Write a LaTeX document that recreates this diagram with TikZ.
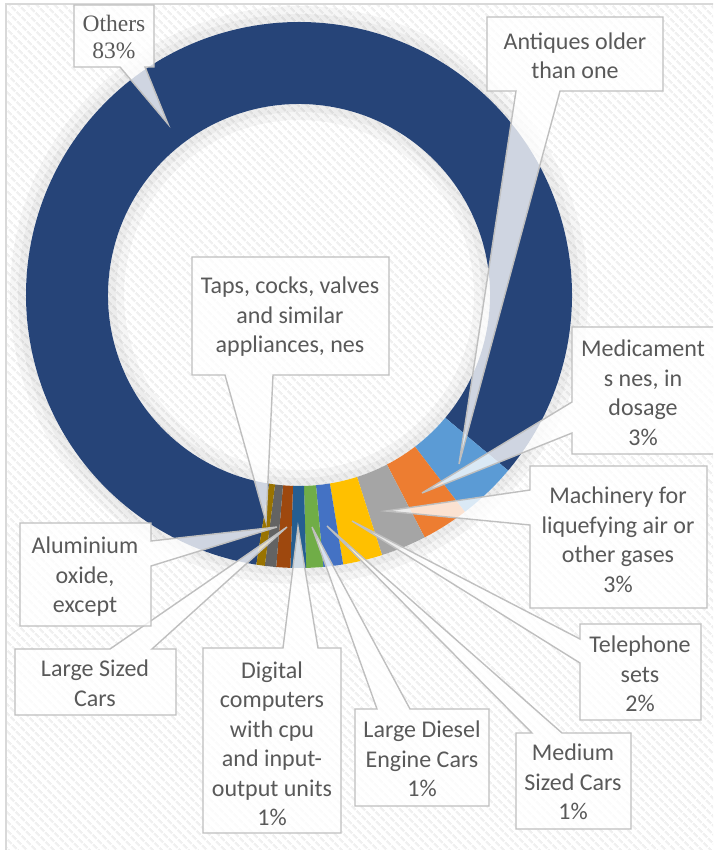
\documentclass[tikz,border=0pt]{standalone}
\usepackage{fontspec}
\setmainfont{Carlito}
\newfontfamily\othersfont{Liberation Serif}
\usetikzlibrary{calc,patterns.meta}
\definecolor{cOthers}{HTML}{264478}
\definecolor{cAnt}{HTML}{5B9BD5}
\definecolor{cMed}{HTML}{ED7D31}
\definecolor{cMach}{HTML}{A5A5A5}
\definecolor{cTel}{HTML}{FFC000}
\definecolor{cMedCar}{HTML}{4472C4}
\definecolor{cDiesel}{HTML}{70AD47}
\definecolor{cDig}{HTML}{255E91}
\definecolor{cLarge}{HTML}{9E480E}
\definecolor{cAlu}{HTML}{636363}
\definecolor{cTaps}{HTML}{997300}
\definecolor{txtgray}{HTML}{595959}
\definecolor{boxgray}{HTML}{BFBFBF}
\definecolor{framegray}{HTML}{D9D9D9}
\newcommand\ringseg[3]{\fill[#1] ($(C)+({-(#2)}:273)$) arc[start angle={-(#2)}, end angle={-(#3)}, radius=273] -- ($(C)+({-(#3)}:191)$) arc[start angle={-(#3)}, end angle={-(#2)}, radius=191] -- cycle;}
\begin{document}
\begin{tikzpicture}[x=1pt,y=-1pt,
  callout/.style={fill=white, fill opacity=0.78, draw=boxgray, line width=1.4pt, line join=miter},
  lbl/.style={text=txtgray, align=center, font=\fontsize{24}{29.5}\selectfont, inner sep=0pt},
  serlbl/.style={text=txtgray, align=center, font=\othersfont\fontsize{23.5}{27}\selectfont, inner sep=0pt}]
\useasboundingbox (0,0) rectangle (713,850);
\clip (0,0) rectangle (713,850);
\fill[white] (0,0) rectangle (713,850);
\fill[pattern={Lines[angle=-45,distance=6.5pt,line width=2.6pt]}, pattern color=black!6] (6,4) rectangle (730,870);
\draw[framegray, line width=2pt] (6,4) rectangle (730,870);
\coordinate (C) at (299,295);
% soft shadow around ring
\draw[black, opacity=0.035, line width=16pt] (C) circle[radius=281];
\draw[black, opacity=0.035, line width=8pt] (C) circle[radius=277];
\draw[black, opacity=0.035, line width=16pt] (C) circle[radius=183];
\draw[black, opacity=0.035, line width=8pt] (C) circle[radius=187];
% ring
\ringseg{cOthers}{-40}{261}
\ringseg{cAnt}{307.4}{320}
\ringseg{cMed}{297.4}{307.4}
\ringseg{cMach}{287.7}{297.4}
\ringseg{cTel}{279.3}{287.7}
\ringseg{cMedCar}{275.1}{279.3}
\ringseg{cDiesel}{271.5}{275.1}
\ringseg{cDig}{268.2}{271.5}
\ringseg{cLarge}{265.2}{268.2}
\ringseg{cAlu}{262.8}{265.2}
\ringseg{cTaps}{261}{262.8}
% callouts
\draw[callout] (74,5) -- (154,5) -- (154,67) -- (145,67) -- (168,124) -- (120,67) -- (74,67) -- cycle;
\draw[callout] (487,17) -- (663,17) -- (663,91) -- (560,91) -- (459,464) -- (516,91) -- (487,91) -- cycle;
\draw[callout] (192,257) -- (389,257) -- (389,375) -- (273,375) -- (266,522) -- (225,375) -- (192,375) -- cycle;
\draw[callout] (572,327) -- (716,327) -- (716,454) -- (572,454) -- (572,433) -- (422,493) -- (572,402) -- cycle;
\draw[callout] (530,466) -- (707,466) -- (707,608) -- (530,608) -- (530,525) -- (386,511) -- (530,490) -- cycle;
\draw[callout] (580,624) -- (701,624) -- (701,720) -- (580,720) -- (580,663) -- (352,521) -- (580,639) -- cycle;
\draw[callout] (516,733) -- (532,733) -- (327,526) -- (562,733) -- (631,733) -- (631,829) -- (516,829) -- cycle;
\draw[callout] (355,709) -- (377,709) -- (312,527) -- (410,709) -- (489,709) -- (489,806) -- (355,806) -- cycle;
\draw[callout] (203,648) -- (283,648) -- (298,527) -- (318,648) -- (341,648) -- (341,833) -- (203,833) -- cycle;
\draw[callout] (15,649) -- (110,649) -- (287,527) -- (152,649) -- (176,649) -- (176,715) -- (15,715) -- cycle;
\draw[callout] (20,523) -- (151,523) -- (151,541) -- (277,527) -- (151,566) -- (151,626) -- (20,626) -- cycle;
% labels
\node[serlbl] (others) at (114,37) {Others\\83\%};
\node[lbl] (antiques) at (575,56) {Antiques older\\than one};
\node[lbl] (taps) at (290,317) {Taps, cocks, valves\\and similar\\appliances, nes};
\node[lbl] (medic) at (643,393) {Medicament\\s nes, in\\dosage\\3\%};
\node[lbl] (mach) at (618,540) {Machinery for\\liquefying air or\\other gases\\3\%};
\node[lbl] (tel) at (640,674) {Telephone\\sets\\2\%};
\node[lbl] (medcar) at (573,782) {Medium\\Sized Cars\\1\%};
\node[lbl] (diesel) at (422,759) {Large Diesel\\Engine Cars\\1\%};
\node[lbl] (digital) at (272,744) {Digital\\computers\\with cpu\\and input-\\output units\\1\%};
\node[lbl] (large) at (95,683) {Large Sized\\Cars};
\node[lbl] (alu) at (85,577) {Aluminium\\oxide,\\except};
\end{tikzpicture}
\end{document}
